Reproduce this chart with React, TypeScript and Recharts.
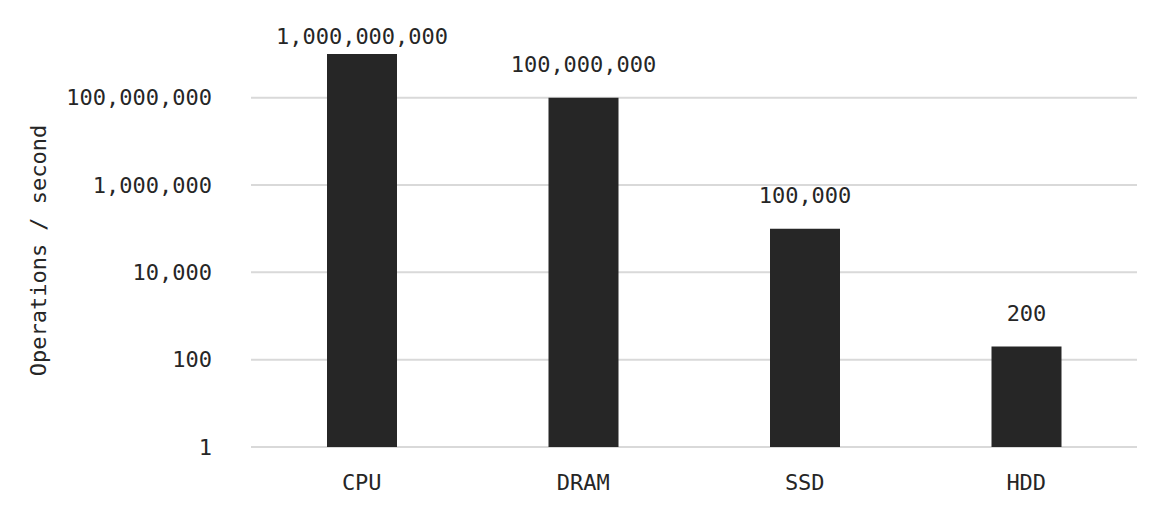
import React from "react";
import { BarChart, Bar, XAxis, YAxis, CartesianGrid, LabelList, Label } from "recharts";

const devices = ["CPU", "DRAM", "SSD", "HDD"];
const opsPerSecond = [1000000000, 100000000, 100000, 200];
const yTicks = [1, 100, 10000, 1000000, 100000000];

const data = devices.map((name, i) => ({ name, ops: opsPerSecond[i] }));

const FONT = "'DejaVu Sans Mono', 'Liberation Mono', monospace";
const INK = "#262626";

const fmt = (v: number) => v.toLocaleString("en-US");

// value labels sit above the bar; the tallest one gets pushed down so it stays on the canvas
function ValueLabel(props: any) {
  const { x, y, width, value } = props;
  const baseline = Math.max(y - 26, 44);
  return (
    <text
      x={x + width / 2}
      y={baseline}
      textAnchor="middle"
      fill={INK}
      style={{ fontFamily: FONT, fontSize: 22 }}
    >
      {fmt(value)}
    </text>
  );
}

export default function App() {
  return (
    <div style={{ position: "absolute", left: 0, top: 0, background: "#fff" }}>
      <BarChart
        width={1164}
        height={522}
        data={data}
        margin={{ top: 54, right: 27, bottom: 0, left: 0 }}
        barCategoryGap="0%"
      >
        <CartesianGrid
          vertical={false}
          horizontalValues={yTicks}
          stroke="#d9d9d9"
          strokeWidth={2}
        />
        <XAxis
          dataKey="name"
          axisLine={false}
          tickLine={false}
          height={75}
          tickMargin={21}
          tick={{ fill: INK, fontSize: 22, fontFamily: FONT }}
        />
        <YAxis
          scale="log"
          domain={[1, 1000000000]}
          ticks={yTicks}
          width={251}
          axisLine={false}
          tickLine={false}
          tickMargin={33}
          tickFormatter={fmt}
          tick={{ fill: INK, fontSize: 22, fontFamily: FONT }}
        >
          <Label
            value="Operations / second"
            angle={-90}
            position="insideLeft"
            offset={38}
            style={{ textAnchor: "middle", fill: INK, fontSize: 22, fontFamily: FONT }}
          />
        </YAxis>
        <Bar dataKey="ops" fill={INK} barSize={70} isAnimationActive={false}>
          <LabelList dataKey="ops" content={<ValueLabel />} />
        </Bar>
      </BarChart>
    </div>
  );
}
